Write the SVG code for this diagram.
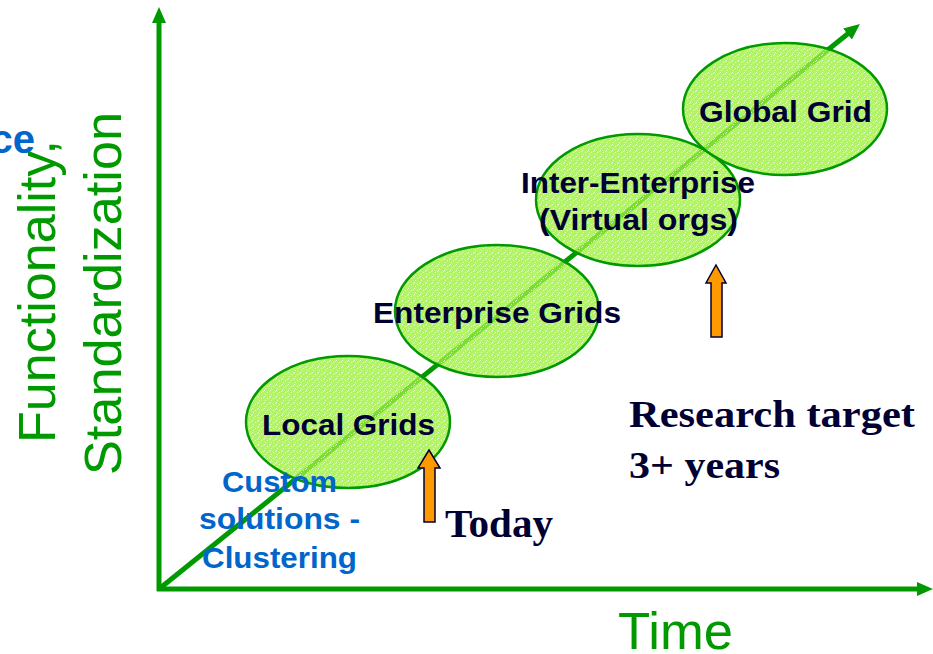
<svg xmlns="http://www.w3.org/2000/svg" width="933" height="654" viewBox="0 0 933 654">
  <style>
    .axis { stroke: #009900; stroke-width: 5; fill: none; }
    .oval { fill: url(#speckle); stroke: #009900; stroke-width: 2.5; }
    .lbl { font-family: "Liberation Sans", Arial, sans-serif; font-weight: bold; font-size: 30px; fill: #000033; }
    .blue { font-family: "Liberation Sans", Arial, sans-serif; font-weight: bold; font-size: 30px; fill: #0066cc; }
    .axlbl { font-family: "Liberation Sans", Arial, sans-serif; font-size: 52px; fill: #009900; }
    .serif { font-family: "Liberation Serif", "Times New Roman", serif; font-weight: bold; font-size: 38px; fill: #000033; }
    .up { fill: #ff9900; stroke: #000033; stroke-width: 1.5; stroke-linejoin: miter; }
  </style>
  <defs>
    <marker id="ah" viewBox="0 0 16 16" refX="6" refY="8" markerWidth="16" markerHeight="16" markerUnits="userSpaceOnUse" orient="auto">
      <path d="M0,1 L16,8 L0,15 z" fill="#009900"/>
    </marker>
    <pattern id="speckle" width="6" height="6" patternUnits="userSpaceOnUse">
      <rect width="6" height="6" fill="#9cf03c" fill-opacity="0.78"/>
      <rect x="0" y="0" width="1" height="1" fill="#ffffff" fill-opacity="0.75"/>
      <rect x="3" y="2" width="1" height="1" fill="#ffffff" fill-opacity="0.75"/>
      <rect x="1" y="4" width="1" height="1" fill="#f4ffe6" fill-opacity="0.75"/>
      <rect x="5" y="1" width="1" height="1" fill="#ffffff" fill-opacity="0.6"/>
    </pattern>
  </defs>

  <g id="axes">
    <line class="axis" x1="159" y1="591" x2="159" y2="17" marker-end="url(#ah)"/>
    <line class="axis" x1="157" y1="589" x2="923" y2="589" marker-end="url(#ah)"/>
  </g>

  <g id="connectors">
    <line class="axis" x1="159" y1="589" x2="852.2" y2="30.3" stroke-width="6" marker-end="url(#ah)"/>
  </g>

  <g id="node-local">
    <ellipse class="oval" cx="348" cy="422" rx="102" ry="66"/>
  </g>
  <g id="node-enterprise">
    <ellipse class="oval" cx="497" cy="311" rx="102" ry="66"/>
  </g>
  <g id="node-inter">
    <ellipse class="oval" cx="638" cy="200" rx="102" ry="66"/>
  </g>
  <g id="node-global">
    <ellipse class="oval" cx="785" cy="109" rx="102" ry="66"/>
  </g>

  <g id="labels">
    <text class="lbl" x="262" y="435" textLength="173" lengthAdjust="spacingAndGlyphs">Local Grids</text>
    <text class="lbl" x="373" y="323" textLength="248" lengthAdjust="spacingAndGlyphs">Enterprise Grids</text>
    <text class="lbl" x="521" y="193" textLength="234" lengthAdjust="spacingAndGlyphs">Inter-Enterprise</text>
    <text class="lbl" x="539" y="230" textLength="199" lengthAdjust="spacingAndGlyphs">(Virtual orgs)</text>
    <text class="lbl" x="699" y="122" textLength="173" lengthAdjust="spacingAndGlyphs">Global Grid</text>
  </g>

  <g id="custom">
    <text class="blue" x="222" y="492" textLength="115" lengthAdjust="spacingAndGlyphs">Custom</text>
    <text class="blue" x="199" y="529" textLength="161" lengthAdjust="spacingAndGlyphs">solutions -</text>
    <text class="blue" x="202" y="568" textLength="155" lengthAdjust="spacingAndGlyphs">Clustering</text>
  </g>

  <g id="today">
    <polygon class="up" points="429,450 440,468 435,468 435,522 424,522 424,468 418,468"/>
    <text class="serif" x="445" y="537" style="font-size:40px" textLength="108" lengthAdjust="spacingAndGlyphs">Today</text>
  </g>

  <g id="research">
    <polygon class="up" points="716,265 726,283 722,283 722,337 711,337 711,283 706,283"/>
    <text class="serif" x="629" y="427" textLength="286" lengthAdjust="spacingAndGlyphs">Research target</text>
    <text class="serif" x="629" y="478" textLength="151" lengthAdjust="spacingAndGlyphs">3+ years</text>
  </g>

  <g id="axis-labels">
    <text class="axlbl" x="618" y="649" textLength="115" lengthAdjust="spacingAndGlyphs">Time</text>
    <text class="axlbl" transform="translate(55,443) rotate(-90)" textLength="303" lengthAdjust="spacingAndGlyphs">Functionality,</text>
    <text class="axlbl" transform="translate(121,475) rotate(-90)" textLength="363" lengthAdjust="spacingAndGlyphs">Standardization</text>
    <text class="blue" x="35" y="153" style="font-size:40px" text-anchor="end">ce</text>
  </g>
</svg>
